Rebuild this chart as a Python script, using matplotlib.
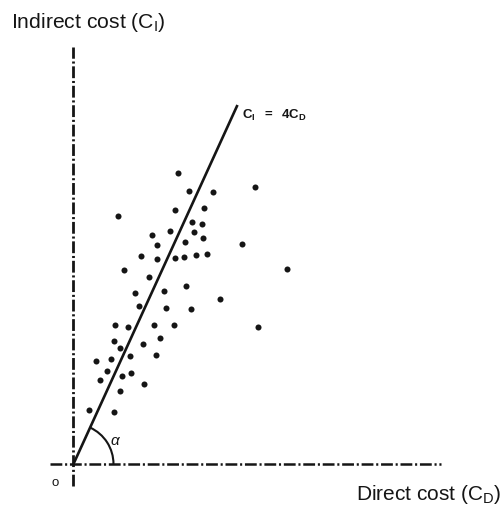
import numpy as np
import matplotlib
matplotlib.use("Agg")
import matplotlib.pyplot as plt
from matplotlib.patches import Arc

plt.rcParams['font.family'] = ['Liberation Sans', 'DejaVu Sans']
plt.rcParams['mathtext.fontset'] = 'custom'
plt.rcParams['mathtext.rm'] = 'Liberation Sans'
plt.rcParams['mathtext.it'] = 'Liberation Sans:italic'
plt.rcParams['mathtext.bf'] = 'Liberation Sans:bold'
plt.rcParams['lines.scale_dashes'] = False

# scatter of direct cost vs indirect cost
direct_cost = [6.39, 11.07, 7.06, 8.49, 2.73, 6.21, 7.94, 7.21, 7.85, 5.87,
               4.77, 7.33, 7.88, 6.80, 5.07, 10.29, 4.10, 5.07, 6.21, 6.72,
               7.45, 8.14, 3.10, 13.04, 4.60, 6.84, 3.77, 5.50, 8.95, 3.99,
               5.64, 7.16, 2.55, 3.34, 4.89, 6.11, 11.27, 2.49, 4.24, 5.26,
               2.82, 3.46, 5.01, 1.37, 2.27, 2.04, 2.96, 3.52, 1.60, 4.32,
               2.84, 0.93, 2.49]
indirect_cost = [32.46, 30.90, 30.45, 30.34, 27.67, 28.33, 28.56, 26.93, 26.74, 25.96,
                 25.55, 25.85, 25.15, 24.74, 24.43, 24.48, 23.14, 22.81, 22.92, 23.10,
                 23.29, 23.43, 21.62, 21.69, 20.84, 19.80, 19.09, 19.24, 18.35, 17.60,
                 17.38, 17.24, 15.49, 15.26, 15.45, 15.45, 15.30, 13.74, 13.37, 14.07,
                 12.89, 12.07, 12.11, 11.44, 11.67, 10.33, 9.84, 10.11, 9.33, 8.95,
                 8.10, 6.05, 5.76]

ratio = 4          # C_I = 4 C_D
line_end = 10      # line drawn up to C_D = 10

ink = '#151515'

fig = plt.figure(figsize=(5.02, 5.06), dpi=100)
ax = fig.add_axes([0, 0, 1, 1])
ax.set_xlim(-4.48, 26.13)
ax.set_ylim(-4.57, 51.81)
ax.axis('off')

# dash-dot axes
dashdot = (0, (8.5, 2.0, 1.5, 2.0))
ax.plot([0, 0], [-2.4, 46.5], color=ink, lw=2.0, linestyle=dashdot)
ax.plot([-1.45, 22.4], [0, 0], color=ink, lw=1.8, linestyle=dashdot)

# regression line and points
xs = np.array([0, line_end])
ax.plot(xs, ratio * xs, color=ink, lw=1.9, solid_capstyle='butt')
ax.scatter(direct_cost, indirect_cost, s=19, color=ink, linewidths=0)

# angle alpha
r_px = 40
ax.add_patch(Arc((0, 0), 2 * r_px / 16.4, 2 * r_px / 8.975, theta1=0,
                 theta2=np.degrees(np.arctan(ratio)), color=ink, lw=1.5))
ax.text(2.55, 2.7, r'$\alpha$', fontsize=11, color=ink,
        ha='center', va='center', family='DejaVu Sans')

# labels
ax.text(-3.8, 49.3, r'Indirect cost (C$_\mathregular{I}$)', fontsize=15.2, color=ink,
        ha='left', va='center')
ax.text(17.2, -3.3, r'Direct cost (C$_\mathregular{D}$)', fontsize=15, color=ink,
        ha='left', va='center')
ax.text(line_end + 0.25, ratio * line_end - 1.0,
        r'$\mathbf{C_I}$  $\mathbf{=}$  $\mathbf{4C_D}$',
        fontsize=9.5, color=ink, ha='left', va='center')
ax.text(-1.1, -2.0, 'o', fontsize=9.5, color=ink, ha='center', va='center')

fig.savefig('out.png', dpi=100)
